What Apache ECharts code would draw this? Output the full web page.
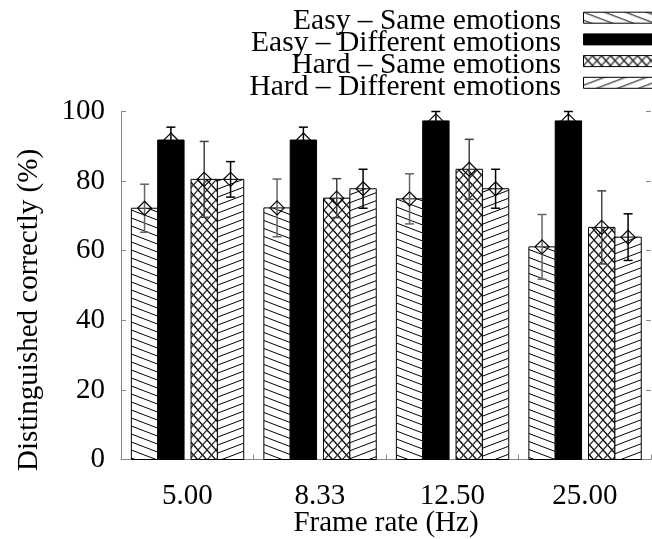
<!DOCTYPE html>
<html>
<head>
<meta charset="utf-8">
<script src="https://cdn.jsdelivr.net/npm/echarts@6/dist/echarts.min.js"></script>
<style>
html,body{margin:0;padding:0;background:#fff;}
#chart{width:652px;height:539px;}
</style>
</head>
<body>
<div id="chart"></div>
<script>
// ---- data ----
const categories = ['5.00', '8.33', '12.50', '25.00'];
const seriesNames = ['Easy – Same emotions', 'Easy – Different emotions', 'Hard – Same emotions', 'Hard – Different emotions'];
const easySame = [72.2, 72.3, 74.9, 61.1];
const easySameErr = [6.9, 8.3, 7.2, 9.3];
const easyDiff = [91.8, 91.8, 97.3, 97.3];
const easyDiffErr = [3.7, 3.7, 2.7, 2.7];
const hardSame = [80.5, 75.1, 83.4, 66.7];
const hardSameErr = [10.9, 5.6, 8.6, 10.5];
const hardDiff = [80.5, 77.8, 77.8, 63.9];
const hardDiffErr = [5.1, 5.6, 5.6, 6.7];
const yTicks = [0, 20, 40, 60, 80, 100];
const xTitle = 'Frame rate (Hz)';
const yTitle = 'Distinguished correctly (%)';

// ---- patterns ----
function makeTile(w, h, draw) {
  const c = document.createElement('canvas');
  c.width = w; c.height = h;
  const ctx = c.getContext('2d');
  ctx.fillStyle = '#fff';
  ctx.fillRect(0, 0, w, h);
  draw(ctx, w, h);
  return { image: c, repeat: 'repeat' };
}
function hatch(dir) {
  return makeTile(21, 8, function (ctx, w, h) {
    ctx.strokeStyle = '#000';
    ctx.lineWidth = 1;
    for (let k = -1; k <= 1; k++) {
      ctx.beginPath();
      if (dir > 0) { ctx.moveTo(0, k * h); ctx.lineTo(w, k * h + h); }
      else { ctx.moveTo(0, k * h + h); ctx.lineTo(w, k * h); }
      ctx.stroke();
    }
  });
}
const patES = hatch(1);
const patHD = hatch(-1);
const patHS = makeTile(9, 10, function (ctx, w, h) {
  ctx.lineWidth = 1.3;
  ctx.strokeStyle = '#000';
  ctx.beginPath(); ctx.moveTo(-1, -10 / 9); ctx.lineTo(w + 1, h + 10 / 9); ctx.stroke();
  ctx.strokeStyle = '#333';
  ctx.beginPath(); ctx.moveTo(w + 1, -10 / 9); ctx.lineTo(-1, h + 10 / 9); ctx.stroke();
});
const fills = [patES, '#000', patHS, patHD];
const errColors = ['#666', '#000', '#444', '#000'];
const offsets = [-0.4218, -0.223, 0.0286, 0.2275];
const widthFrac = 0.199;

const valueSets = [easySame, easyDiff, hardSame, hardDiff];
const errSets = [easySameErr, easyDiffErr, hardSameErr, hardDiffErr];

function makeRender(si) {
  return function (params, api) {
    const xi = api.value(0), v = api.value(1), e = api.value(2);
    const c = api.coord([xi, v]);
    const base = api.coord([xi, 0]);
    const bw = api.size([1, 0])[0];
    const left = c[0] + offsets[si] * bw;
    const w = widthFrac * bw;
    const cx = left + w / 2;
    const top = api.coord([xi, v + e])[1];
    const bot = api.coord([xi, v - e])[1];
    const cap = 4.5, d = 7;
    const ec = errColors[si];
    return {
      type: 'group',
      children: [
        { type: 'rect', shape: { x: left, y: c[1], width: w, height: base[1] - c[1] },
          style: { fill: fills[si], stroke: '#000', lineWidth: 1 } },
        { type: 'line', shape: { x1: cx, y1: top, x2: cx, y2: bot }, style: { stroke: ec, lineWidth: 1.5 } },
        { type: 'line', shape: { x1: cx - cap, y1: top, x2: cx + cap, y2: top }, style: { stroke: ec, lineWidth: 1.5 } },
        { type: 'line', shape: { x1: cx - cap, y1: bot, x2: cx + cap, y2: bot }, style: { stroke: ec, lineWidth: 1.5 } },
        { type: 'polygon', shape: { points: [[cx, c[1] - d], [cx + d, c[1]], [cx, c[1] + d], [cx - d, c[1]]] },
          style: { fill: 'none', stroke: '#000', lineWidth: 1.2 } }
      ]
    };
  };
}

const series = valueSets.map(function (vals, si) {
  return {
    type: 'custom',
    name: seriesNames[si],
    renderItem: makeRender(si),
    encode: { x: 0, y: 1 },
    clip: false,
    data: vals.map(function (v, i) { return [i, v, errSets[si][i]]; })
  };
});

const FONT = '"Liberation Serif", "Times New Roman", serif';
const legendMid = [21.7, 43.4, 65.1, 86.8];
const graphics = [];
seriesNames.forEach(function (n, i) {
  graphics.push({ type: 'text', x: 561, y: legendMid[i],
    style: { text: n, font: '29.5px ' + FONT, textAlign: 'right', textVerticalAlign: 'middle', fill: '#000' } });
  graphics.push({ type: 'rect', x: 583.5, y: legendMid[i] - 4 - 5.5,
    shape: { x: 0, y: 0, width: 80, height: 11 },
    style: { fill: fills[i], stroke: '#000', lineWidth: 1 } });
});
// y-axis title (rotated)
graphics.push({ type: 'text', x: 29, y: 310, rotation: Math.PI / 2,
  style: { text: yTitle, font: '29px ' + FONT, textAlign: 'center', textVerticalAlign: 'middle', fill: '#000' } });

const chart = echarts.init(document.getElementById('chart'), null, { renderer: 'canvas' });
chart.setOption({
  animation: false,
  backgroundColor: '#fff',
  grid: { left: 121, right: 1, top: 111.5, bottom: 79.5, containLabel: false, outerBoundsMode: 'none' },
  xAxis: {
    type: 'category',
    data: categories,
    name: xTitle,
    nameLocation: 'middle',
    nameGap: 49,
    nameMoveOverlap: false,
    nameTextStyle: { fontFamily: FONT, fontSize: 29, color: '#000' },
    axisLine: { lineStyle: { color: '#888', width: 1 } },
    axisTick: { show: true, inside: true, length: 5, lineStyle: { color: '#888' } },
    axisLabel: { fontFamily: FONT, fontSize: 29, color: '#000', margin: 22 }
  },
  yAxis: [{
    type: 'value',
    min: yTicks[0], max: yTicks[yTicks.length - 1], interval: 20,
    axisLine: { show: true, lineStyle: { color: '#888', width: 1 } },
    axisTick: { show: true, inside: true, length: 5, lineStyle: { color: '#888' } },
    splitLine: { show: false },
    axisLabel: { fontFamily: FONT, fontSize: 29, color: '#000', margin: 16 }
  }, {
    type: 'value', position: 'right',
    min: yTicks[0], max: yTicks[yTicks.length - 1], interval: 20,
    axisLine: { show: false },
    axisTick: { show: true, inside: true, length: 5, lineStyle: { color: '#888' } },
    splitLine: { show: false },
    axisLabel: { show: false }
  }],
  series: series,
  graphic: graphics
});
</script>
</body>
</html>
